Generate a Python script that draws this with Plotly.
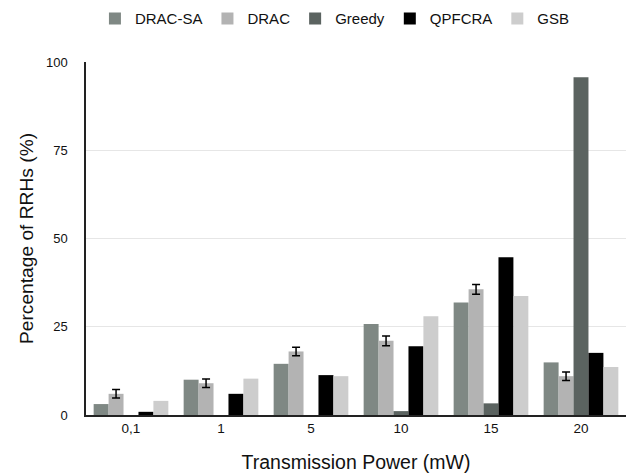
import plotly.graph_objects as go

categories = ["0,1", "1", "5", "10", "15", "20"]
series_names = ["DRAC-SA", "DRAC", "Greedy", "QPFCRA", "GSB"]
drac_sa = [3.1, 10.0, 14.5, 25.8, 31.9, 14.9]
drac = [6.0, 9.0, 18.0, 21.0, 35.6, 11.0]
drac_err = [1.2, 1.2, 1.2, 1.4, 1.4, 1.2]
greedy = [0.0, 0.0, 0.0, 1.1, 3.3, 95.7]
qpfcra = [0.9, 6.0, 11.3, 19.5, 44.7, 17.6]
gsb = [4.0, 10.3, 11.0, 28.0, 33.7, 13.6]

colors = ["#7f8884", "#b3b3b3", "#5b6360", "#000000", "#cdcdcd"]
values = [drac_sa, drac, greedy, qpfcra, gsb]

fig = go.Figure()
for i, (name, vals) in enumerate(zip(series_names, values)):
    kw = {}
    if name == "DRAC":
        kw["error_y"] = dict(type="data", array=drac_err, visible=True,
                             color="black", thickness=1.5, width=4)
    fig.add_trace(go.Bar(x=categories, y=vals, name=name,
                         marker=dict(color=colors[i], line=dict(width=0)), **kw))

fig.update_layout(
    width=633, height=473,
    barmode="group", bargap=0.17, bargroupgap=0,
    plot_bgcolor="white", paper_bgcolor="white",
    margin=dict(l=86, r=7, t=62, b=58, autoexpand=False),
    font=dict(family="Liberation Sans, Arial, sans-serif", color="#111111", size=13),
    legend=dict(orientation="h", x=0.461, xanchor="center", y=0.995, yanchor="top",
                yref="container", font=dict(size=15), itemwidth=30,
                traceorder="normal"),
    xaxis=dict(title=dict(text="Transmission Power (mW)", font=dict(size=19.5), standoff=20),
               automargin=False,
               showline=True, linecolor="#222222", linewidth=1.5,
               ticks="", tickfont=dict(size=13.5), ticklabelstandoff=0),
    yaxis=dict(title=dict(text="Percentage of RRHs (%)", font=dict(size=19.2), standoff=7),
               automargin=False,
               range=[0, 100], tickvals=[0, 25, 50, 75, 100],
               showline=True, linecolor="#222222", linewidth=1.5,
               showgrid=True, gridcolor="#e6e6e6", zeroline=False,
               ticks="", tickfont=dict(size=13), ticklabelstandoff=14),
)

fig.write_html("out.html", config={"displayModeBar": False},
               post_script="document.body.style.margin='0';document.body.style.padding='0';")
